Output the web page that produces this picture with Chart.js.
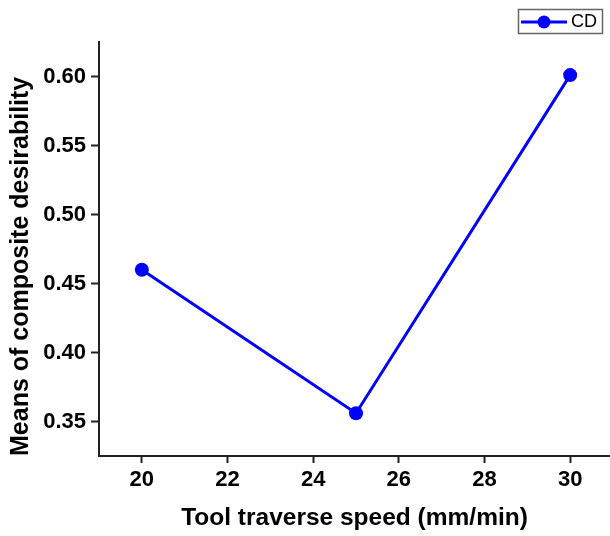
<!DOCTYPE html>
<html>
<head>
<meta charset="utf-8">
<script src="https://cdn.jsdelivr.net/npm/chart.js@4/dist/chart.umd.min.js"></script>
<style>
  html, body { margin: 0; padding: 0; background: #fff; }
  #wrap { width: 610px; height: 536px; }
</style>
</head>
<body>
<div id="wrap"><canvas id="myChart" width="610" height="536"></canvas></div>
<script>
// values
const speeds = [20, 25, 30]
const desirability = [0.460, 0.356, 0.601]
const xTicks = [20, 22, 24, 26, 28, 30]
const yTicks = [0.35, 0.40, 0.45, 0.50, 0.55, 0.60]

const blue = '#0000ff'
const font = 'Arial, "Liberation Sans", sans-serif'

// legend box in the top right corner
const boxLegend = {
  id: 'boxLegend',
  afterDraw: (chart) => {
    const ctx = chart.ctx
    const ds = chart.data.datasets[0]
    ctx.save()
    ctx.strokeStyle = '#666'
    ctx.lineWidth = 1.5
    ctx.strokeRect(518.5, 9.5, 84, 24)
    ctx.strokeStyle = ds.borderColor
    ctx.lineWidth = 3
    ctx.beginPath()
    ctx.moveTo(521, 22)
    ctx.lineTo(567, 22)
    ctx.stroke()
    ctx.fillStyle = ds.borderColor
    ctx.beginPath()
    ctx.arc(544, 22, 6.5, 0, Math.PI * 2)
    ctx.fill()
    ctx.fillStyle = '#000'
    ctx.font = '18px ' + font
    ctx.textBaseline = 'middle'
    ctx.fillText(ds.label, 571, 22.5)
    ctx.restore()
  }
}

var ctx = document.getElementById('myChart').getContext('2d')

var myChart = new Chart(ctx, {
  type: 'line',
  data: {
    datasets: [{
      label: 'CD',
      data: speeds.map((s, i) => ({ x: s, y: desirability[i] })),
      borderColor: blue,
      backgroundColor: blue,
      borderWidth: 3,
      pointRadius: 7,
      pointHoverRadius: 7,
      pointBackgroundColor: blue,
      pointBorderWidth: 0,
      tension: 0
    }]
  },
  plugins: [boxLegend],
  options: {
    responsive: false,
    animation: false,
    layout: { autoPadding: false, padding: { top: 42, right: 0, left: 0, bottom: 0 } },
    plugins: {
      legend: { display: false },
      tooltip: { enabled: false }
    },
    scales: {
      x: {
        type: 'linear',
        min: 19,
        max: 30.93,
        afterBuildTicks: (s) => { s.ticks = xTicks.map(v => ({ value: v })) },
        afterFit: (s) => { s.height = 80; s.paddingLeft = 0; s.paddingRight = 0 },
        grid: { drawOnChartArea: false, drawTicks: true, tickLength: 7, tickWidth: 2, tickColor: '#222' },
        border: { display: true, color: '#222', width: 2 },
        ticks: {
          color: '#000',
          padding: 4,
          maxRotation: 0,
          font: { family: font, size: 22, weight: 'bold' }
        },
        title: {
          display: true,
          text: 'Tool traverse speed (mm/min)',
          color: '#000',
          padding: { top: 3, bottom: 3 },
          font: { family: font, size: 24.5, weight: 'bold' }
        }
      },
      y: {
        min: 0.325,
        max: 0.625,
        afterBuildTicks: (s) => { s.ticks = yTicks.map(v => ({ value: v })) },
        afterFit: (s) => { s.width = 99 },
        grid: { drawOnChartArea: false, drawTicks: true, tickLength: 8, tickWidth: 2, tickColor: '#222' },
        border: { display: true, color: '#222', width: 2 },
        ticks: {
          color: '#000',
          padding: 5,
          callback: (v) => v.toFixed(2),
          font: { family: font, size: 22, weight: 'bold' }
        },
        title: {
          display: true,
          align: 'start',
          text: 'Means of composite desirability',
          color: '#000',
          padding: { top: 6, bottom: 0 },
          font: { family: font, size: 25, weight: 'bold' }
        }
      }
    }
  }
})
</script>
</body>
</html>
